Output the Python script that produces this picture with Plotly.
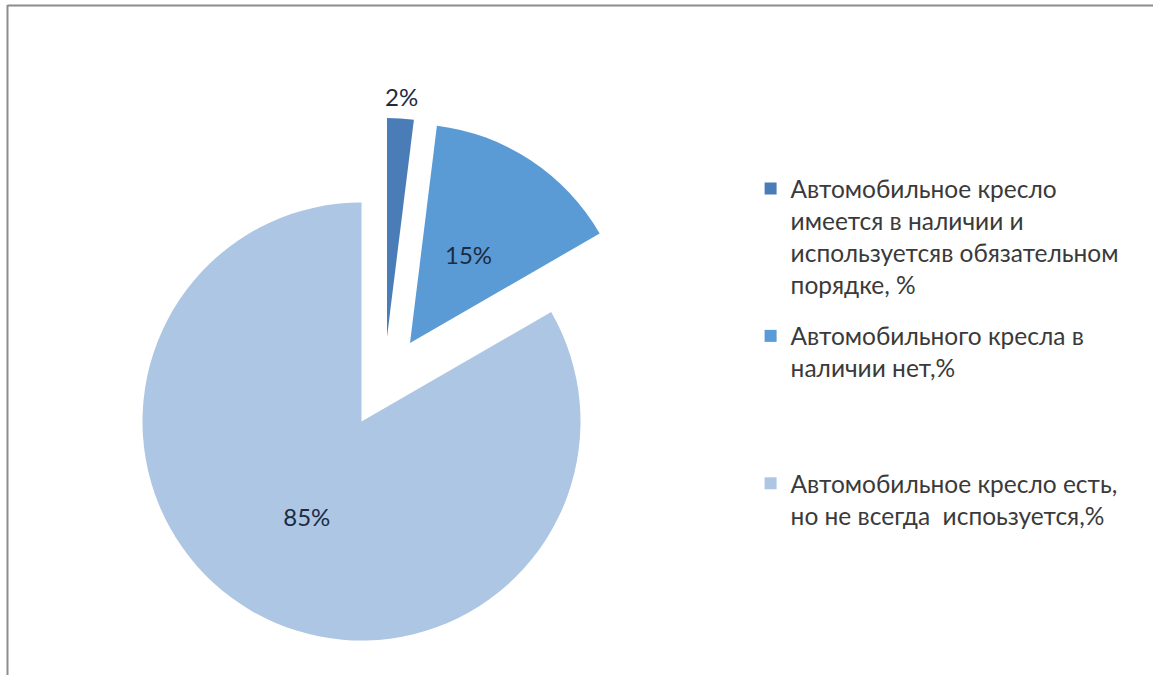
import math
import plotly.graph_objects as go

# ---- data ----
categories = [
    "Автомобильное кресло<br>имеется в наличии и<br>используетсяв обязательном<br>порядке, %",
    "Автомобильного кресла в<br>наличии нет,%",
    "Автомобильное кресло есть,<br>но не всегда  испоьзуется,%",
]
values = [2, 15, 85]
value_labels = [f"{v}%" for v in values]

# ---- style ----
W, H = 1153, 675
colors = ["#4A7DB8", "#5B9BD5", "#ADC6E4"]
TRANSPARENT = "rgba(0,0,0,0)"
FONT = "Lato"
LABEL_COLOR = "#1C2B45"
R = 219
# vertex (pixels) of each exploded slice
centers = [(387, 337), (410, 343), (361.5, 421.5)]
# label placement: ("annot", radial distance as fraction of R) or ("inside", None)
label_mode = [("annot", 1.10), ("annot", 0.485), ("inside", None)]
legend_pad = ["", "<br>\u00a0<br>\u00a0", ""]


def domain(cx, cy, r):
    return dict(x=[(cx - r) / W, (cx + r) / W],
                y=[(H - (cy + r)) / H, (H - (cy - r)) / H])


fig = go.Figure()
n = len(values)
total = sum(values)
labels_full = [c + p for c, p in zip(categories, legend_pad)]

# legend-only traces (tiny, hidden under the big slice), one group per item
for i in range(n):
    fig.add_trace(go.Pie(
        labels=[labels_full[i]], values=[values[i]],
        sort=False,
        marker=dict(colors=[colors[i]], line=dict(width=0)),
        textinfo="none", hoverinfo="skip",
        domain=dict(x=[0.25, 0.2501], y=[0.25, 0.2501]),
        legendgroup=f"g{i}", showlegend=True,
    ))

annotations = []
cum = 0
for i in range(n):
    cols = [colors[j] if j == i else TRANSPARENT for j in range(n)]
    mode, frac = label_mode[i]
    if mode == "inside":
        txt = [value_labels[j] if j == i else "" for j in range(n)]
        tpos = ["inside" if j == i else "none" for j in range(n)]
    else:
        txt = ["" for _ in range(n)]
        tpos = ["none" for _ in range(n)]
    fig.add_trace(go.Pie(
        labels=labels_full, values=values,
        sort=False, direction="clockwise", rotation=0,
        marker=dict(colors=cols, line=dict(width=0)),
        text=txt, textinfo="text", textposition=tpos,
        insidetextorientation="horizontal",
        textfont=dict(family=FONT, size=24, color=LABEL_COLOR),
        hoverinfo="label+text",
        domain=domain(*centers[i], R),
        legendgroup=f"g{i}", showlegend=False,
    ))
    mid = (cum + values[i] / 2) / total * 2 * math.pi
    cum += values[i]
    if mode == "annot":
        cx, cy = centers[i]
        px = cx + frac * R * math.sin(mid)
        py = cy - frac * R * math.cos(mid)
        annotations.append(dict(
            x=px / W, y=1 - py / H, xref="paper", yref="paper",
            text=value_labels[i], showarrow=False,
            xanchor="center", yanchor="middle",
            font=dict(family=FONT, size=24, color=LABEL_COLOR),
        ))

fig.update_layout(
    width=W, height=H,
    margin=dict(l=0, r=0, t=0, b=0, pad=0),
    paper_bgcolor="white",
    font=dict(family=FONT, size=24, color="#404040"),
    legend=dict(
        x=0.651, y=0.754, xanchor="left", yanchor="top",
        valign="top", itemwidth=30,
        font=dict(family=FONT, size=24.5, color="#3A3A3A"),
        bgcolor="rgba(0,0,0,0)",
        tracegroupgap=17,
    ),
    annotations=annotations,
    shapes=[
        dict(type="line", xref="paper", yref="paper",
             x0=7.5 / W, x1=7.5 / W, y0=0, y1=1 - 5 / H,
             line=dict(color="#8C8C8C", width=2)),
        dict(type="line", xref="paper", yref="paper",
             x0=7.5 / W, x1=1, y0=1 - 5.5 / H, y1=1 - 5.5 / H,
             line=dict(color="#8C8C8C", width=2)),
    ],
)

fig.write_html("out.html", config={"displayModeBar": False},
               post_script="document.body.style.margin='0';")
